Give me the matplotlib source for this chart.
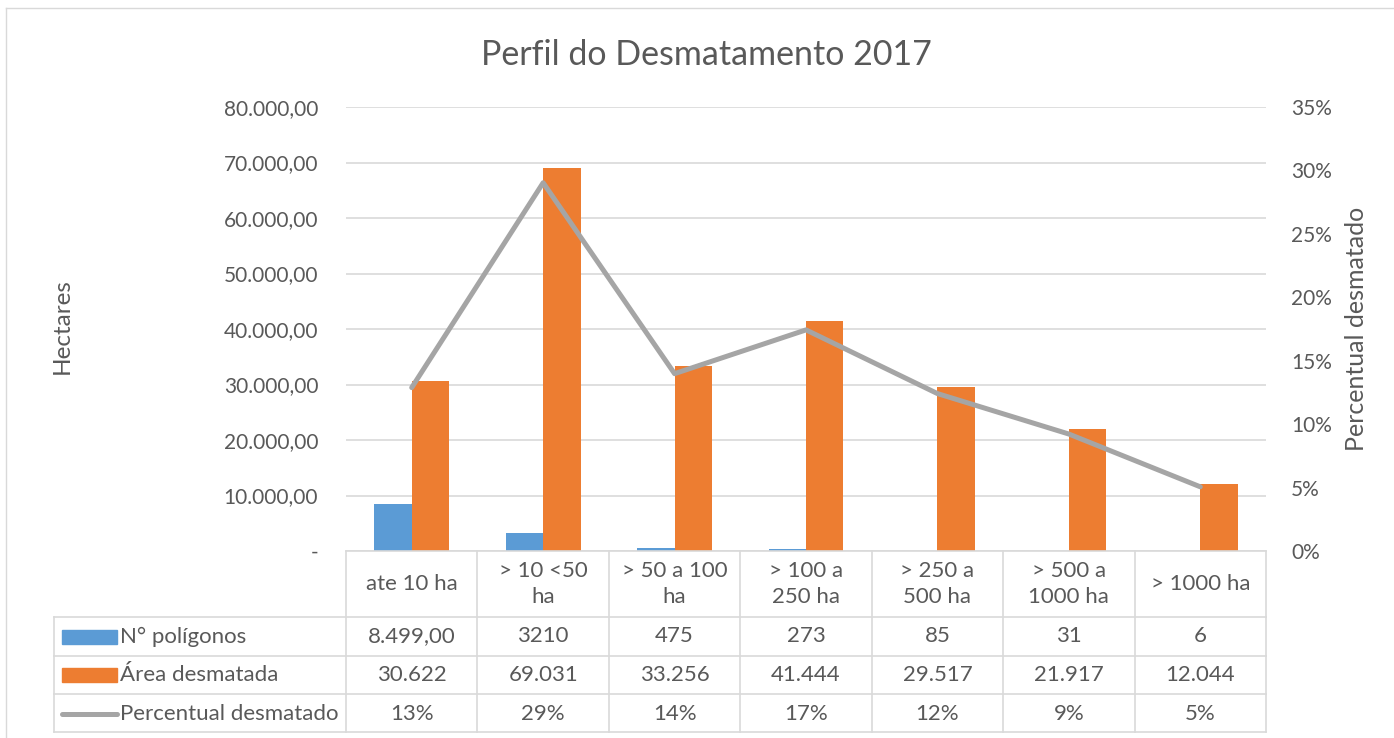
import numpy as np
import matplotlib
matplotlib.use("Agg")
import matplotlib.pyplot as plt
from matplotlib.lines import Line2D
from matplotlib.patches import Rectangle
from matplotlib.ticker import FuncFormatter

plt.rcParams['font.family'] = ['Lato', 'DejaVu Sans']

# data
categorias = ["ate 10 ha", "> 10 <50\nha", "> 50 a 100\nha", "> 100 a\n250 ha",
              "> 250 a\n500 ha", "> 500 a\n1000 ha", "> 1000 ha"]
poligonos = [8499, 3210, 475, 273, 85, 31, 6]
poligonos_txt = ["8.499,00", "3210", "475", "273", "85", "31", "6"]
area = [30622, 69031, 33256, 41444, 29517, 21917, 12044]
percentual = [0.1288, 0.2903, 0.1398, 0.1743, 0.1241, 0.0922, 0.0506]
series = ["N° polígonos", "Área desmatada", "Percentual desmatado"]

blue = '#5B9BD5'
orange = '#ED7D31'
gray = '#A5A5A5'
txt = '#595959'
grid = '#D9D9D9'

W, H = 1394, 738
fig = plt.figure(figsize=(W / 100, H / 100), dpi=100)


def fx(px):
    return px / W


def fy(py):
    return 1 - py / H


# outer chart border
fig.add_artist(Line2D([fx(6), fx(6)], [fy(8), 0], transform=fig.transFigure, color=grid, lw=1))
fig.add_artist(Line2D([fx(6), 1], [fy(8), fy(8)], transform=fig.transFigure, color=grid, lw=1))

fig.text(fx(706), fy(55), "Perfil do Desmatamento 2017",
         ha='center', va='center', fontsize=24.5, color=txt)

# main axes
ax = fig.add_axes([fx(346), fy(551), (1266 - 346) / W, (551 - 107) / H])
x = np.arange(len(categorias))
bw = 0.285
ax.bar(x - bw / 2, poligonos, bw, color=blue, zorder=2)
ax.bar(x + bw / 2, area, bw, color=orange, zorder=2)
ax.set_xlim(-0.5, len(categorias) - 0.5)
ax.set_ylim(0, 80000)
ax.set_yticks(np.arange(0, 80001, 10000))
ax.yaxis.set_major_formatter(FuncFormatter(
    lambda v, p: "-" if v == 0 else f"{v:,.2f}".replace(",", "X").replace(".", ",").replace("X", ".")))
ax.yaxis.grid(True, color=grid, lw=1.2)
ax.set_axisbelow(True)
ax.set_xticks([])
for s in ['left', 'right', 'top']:
    ax.spines[s].set_visible(False)
ax.spines['bottom'].set_color(grid)
ax.spines['bottom'].set_linewidth(1.2)
ax.tick_params(axis='y', length=0, pad=20, labelsize=15, labelcolor=txt)

ax2 = ax.twinx()
ax2.plot(x, percentual, color=gray, lw=3.6, solid_joinstyle='round', solid_capstyle='round', zorder=3)
ax2.set_ylim(0, 0.35)
ax2.set_yticks(np.arange(0, 0.351, 0.05))
ax2.yaxis.set_major_formatter(FuncFormatter(lambda v, p: f"{v:.0%}"))
for s in ax2.spines.values():
    s.set_visible(False)
ax2.tick_params(axis='y', length=0, pad=18, labelsize=15, labelcolor=txt)

fig.text(fx(62), fy(326), "Hectares", rotation=90, ha='center', va='center', fontsize=17.5, color=txt)
fig.text(fx(1357), fy(329), "Percentual desmatado", rotation=90, ha='center', va='center',
         fontsize=18, color=txt)

# data table
tax = fig.add_axes([fx(54), fy(732), (1266 - 54) / W, (732 - 551) / H])
col_w = (1266 - 346) / len(categorias)
leg_w = (346 - 54) / col_w
x0 = -0.5 - leg_w
tax.set_xlim(x0, len(categorias) - 0.5)
tax.set_ylim(181, 0)
tax.axis('off')

rows = [0, 66, 104.5, 143, 181]
for xb in np.arange(-0.5, len(categorias), 1.0):
    tax.plot([xb, xb], [0, 181], color=grid, lw=1.2, clip_on=False)
tax.plot([x0, x0], [66, 181], color=grid, lw=1.2, clip_on=False)
for yb in rows[1:]:
    tax.plot([x0, len(categorias) - 0.5], [yb, yb], color=grid, lw=1.2, clip_on=False)

fs = 16
for i, c in enumerate(categorias):
    tax.text(i, 33, c, ha='center', va='center', fontsize=fs, color=txt, linespacing=1.4)
    tax.text(i, 85.5, poligonos_txt[i], ha='center', va='center', fontsize=fs, color=txt)
    tax.text(i, 124, f"{area[i]:,}".replace(",", "."), ha='center', va='center', fontsize=fs, color=txt)
    tax.text(i, 162.5, f"{percentual[i]:.0%}", ha='center', va='center', fontsize=fs, color=txt)

centers = [85.5, 124, 162.5]
sx0 = x0 + 8 / col_w
sx1 = x0 + 63 / col_w
tax.add_patch(Rectangle((sx0, centers[0] - 7), sx1 - sx0, 14, color=blue, clip_on=False))
tax.add_patch(Rectangle((sx0, centers[1] - 7), sx1 - sx0, 14, color=orange, clip_on=False))
tax.plot([sx0, sx1], [centers[2], centers[2]], color=gray, lw=3.6, solid_capstyle='round', clip_on=False)
for lab, cy in zip(series, centers):
    tax.text(x0 + 66 / col_w, cy, lab, ha='left', va='center', fontsize=fs, color=txt)

fig.savefig("out.png", dpi=100)
